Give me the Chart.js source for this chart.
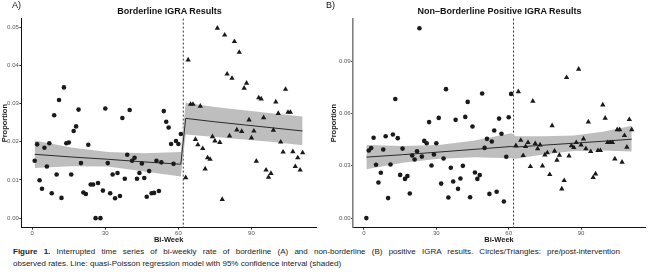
<!DOCTYPE html>
<html><head><meta charset="utf-8">
<script src="https://cdn.jsdelivr.net/npm/chart.js@4.4.0/dist/chart.umd.min.js"></script>
<style>
body{margin:0;background:#fff;width:649px;height:272px;overflow:hidden;position:relative;font-family:"Liberation Sans",Arial,sans-serif;}
canvas{position:absolute;top:0;}
.lbl{position:absolute;font-size:9px;color:#111;line-height:9px;}
.ttl{position:absolute;top:7px;font-size:9px;line-height:9px;font-weight:bold;text-align:center;color:#111;white-space:nowrap;}
.cap{position:absolute;left:13px;font-size:8px;line-height:9px;color:#222;white-space:nowrap;}
#cap1{top:247px;width:607px;text-align:justify;text-align-last:justify;white-space:normal;}
#cap2{top:258.5px;}
</style></head><body>
<canvas id="A" width="320" height="246" style="left:0"></canvas>
<canvas id="B" width="329" height="246" style="left:320px"></canvas>
<div class="lbl" style="left:12px;top:1px;">A)</div>
<div class="lbl" style="left:326px;top:1px;">B)</div>
<div class="ttl" style="left:21px;width:297px;">Borderline IGRA Results</div>
<div class="ttl" style="left:353px;width:293px;">Non–Borderline Positive IGRA Results</div>
<div id="cap1" class="cap"><b>Figure 1.</b> Interrupted time series of bi-weekly rate of borderline (A) and non-borderline (B) positive IGRA results. Circles/Triangles: pre/post-intervention</div>
<div id="cap2" class="cap">observed rates. Line: quasi-Poisson regression model with 95% confidence interval (shaded)</div>
<script>
// ---- data ----
const preWeeks = [1,2,3,4,5,6,7,8,9,10,11,12,13,14,15,16,17,18,19,20,21,22,23,24,25,26,27,28,29,30,31,32,33,34,35,36,37,38,39,40,41,42,43,44,45,46,47,48,49,50,51,52,53,54,55,56,57,58,59,60,61];
const postWeeks = [63,64,65,66,67,68,69,70,71,72,73,74,75,76,77,78,79,80,81,82,83,84,85,86,87,88,89,90,91,92,93,94,95,96,97,98,99,100,101,102,103,104,105,106,107,108,109,110,111];
const interventionWeek = 62;
const xTicks = [0,30,60,90];

const borderlinePre = [0.0150,0.0193,0.0099,0.0077,0.0184,0.0135,0.0196,0.0065,0.0269,0.0114,0.0309,0.0053,0.0342,0.0196,0.0198,0.0114,0.0228,0.0240,0.0284,0.0144,0.0067,0.0063,0.0192,0.0088,0.0088,0.0000,0.0092,0.0000,0.0072,0.0287,0.0144,0.0065,0.0114,0.0052,0.0118,0.0058,0.0262,0.0103,0.0166,0.0283,0.0150,0.0158,0.0103,0.0118,0.0143,0.0105,0.0056,0.0123,0.0065,0.0066,0.0150,0.0071,0.0146,0.0280,0.0252,0.0237,0.0194,0.0142,0.0202,0.0194,0.0220];
const borderlinePost = [0.0106,0.0414,0.0298,0.0298,0.0206,0.0192,0.0293,0.0182,0.0129,0.0158,0.0154,0.0213,0.0202,0.0497,0.0198,0.0049,0.0479,0.0377,0.0215,0.0366,0.0462,0.0231,0.0434,0.0227,0.0340,0.0353,0.0257,0.0210,0.0228,0.0149,0.0315,0.0312,0.0263,0.0126,0.0107,0.0117,0.0230,0.0304,0.0274,0.0199,0.0173,0.0337,0.0277,0.0277,0.0174,0.0135,0.0158,0.0126,0.0171];
const nonBorderlinePre = [0.0000,0.0388,0.0402,0.0461,0.0306,0.0204,0.0260,0.0394,0.0470,0.0115,0.0308,0.0480,0.0684,0.0459,0.0248,0.0399,0.0225,0.0241,0.0141,0.0359,0.0336,0.0384,0.1090,0.0353,0.0443,0.0430,0.0551,0.0302,0.0365,0.0430,0.0575,0.0198,0.0342,0.0740,0.0118,0.0289,0.0210,0.0564,0.0168,0.0227,0.0300,0.0581,0.0667,0.0120,0.0526,0.0262,0.0225,0.0247,0.0715,0.0403,0.0455,0.0139,0.0440,0.0503,0.0151,0.0571,0.0484,0.0095,0.0352,0.0579,0.0713];
const nonBorderlinePost = [0.0416,0.0726,0.0447,0.0359,0.0411,0.0434,0.0296,0.0671,0.0428,0.0398,0.0420,0.0300,0.0363,0.0375,0.0250,0.0531,0.0384,0.0333,0.0361,0.0168,0.0216,0.0807,0.0357,0.0415,0.0405,0.0434,0.0855,0.0420,0.0455,0.0399,0.0552,0.0382,0.0233,0.0254,0.0388,0.0388,0.0650,0.0574,0.0434,0.0434,0.0434,0.0340,0.0508,0.0508,0.0321,0.0474,0.0407,0.0566,0.0508];

// fitted model
const fitWeeks = [1,16,31,46,61,63,75,87,99,111];
const borderlineFit   = [0.0167,0.0160,0.0154,0.0147,0.0141,0.0261,0.0252,0.0244,0.0236,0.0228];
const borderlineUpper = [0.0203,0.0185,0.0173,0.0170,0.0173,0.0302,0.0291,0.0282,0.0274,0.0266];
const borderlineLower = [0.0131,0.0136,0.0135,0.0122,0.0109,0.0219,0.0212,0.0206,0.0199,0.0191];
const nonBorderlineFit   = [0.0350,0.0364,0.0379,0.0395,0.0411,0.0408,0.0419,0.0430,0.0441,0.0453];
const nonBorderlineUpper = [0.0419,0.0414,0.0420,0.0445,0.0487,0.0470,0.0470,0.0474,0.0495,0.0530];
const nonBorderlineLower = [0.0281,0.0318,0.0340,0.0349,0.0344,0.0340,0.0366,0.0385,0.0388,0.0383];

const yTicksA = [0,0.01,0.02,0.03,0.04,0.05];
const yTicksB = [0,0.03,0.06,0.09];

// ---- drawing ----
const FAM = '"Liberation Sans", Arial, sans-serif';
const pts = (xs, ys) => xs.map((x,i)=>({x:x,y:ys[i]}));

const vline = {
  id:'vline',
  beforeDatasetsDraw(chart){
    const {ctx, chartArea, scales} = chart;
    const x = scales.x.getPixelForValue(interventionWeek);
    ctx.save();
    ctx.strokeStyle = '#333';
    ctx.lineWidth = 1;
    ctx.setLineDash([2,2]);
    ctx.beginPath();
    ctx.moveTo(x, chartArea.top);
    ctx.lineTo(x, chartArea.bottom);
    ctx.stroke();
    ctx.restore();
  }
};

function makeChart(id, o){
  return new Chart(document.getElementById(id), {
    type:'scatter',
    data:{datasets:[
      {data:pts(preWeeks,o.pre), pointStyle:'circle', pointRadius:2.3, backgroundColor:'#1a1a1a', borderColor:'#1a1a1a', borderWidth:0, showLine:false, order:0},
      {data:pts(postWeeks,o.post), pointStyle:'triangle', pointRadius:3.1, backgroundColor:'#1a1a1a', borderColor:'#1a1a1a', borderWidth:0, showLine:false, order:0},
      {data:pts(fitWeeks,o.fit), showLine:true, borderColor:'#2b2b2b', borderWidth:1, pointRadius:0, fill:false, tension:0, order:1},
      {data:pts(fitWeeks,o.upper), showLine:true, borderColor:'rgba(0,0,0,0)', borderWidth:0, pointRadius:0, fill:'+1', backgroundColor:'#bebebe', tension:0, order:2},
      {data:pts(fitWeeks,o.lower), showLine:true, borderColor:'rgba(0,0,0,0)', borderWidth:0, pointRadius:0, fill:false, tension:0, order:3}
    ]},
    options:{
      responsive:false, animation:false, devicePixelRatio:1,
      layout:{padding:o.pad},
      plugins:{legend:{display:false}, tooltip:{enabled:false}},
      scales:{
        x:{type:'linear', min:-4.5, max:116.5,
          afterBuildTicks:s=>{s.ticks = xTicks.map(v=>({value:v}));},
          ticks:{font:{size:6,family:FAM}, color:'#555', padding:0.5, maxRotation:0, autoSkip:false, callback:v=>String(v)},
          grid:{display:true, drawOnChartArea:false, drawTicks:true, tickLength:2, color:'#333'},
          border:{display:true, color:'#111', width:1},
          title:{display:true, text:'Bi-Week', font:{size:7.5,weight:'bold',family:FAM}, color:'#1a1a1a', padding:{top:0,bottom:1.5}},
          afterFit:s=>{s.height=18.3;}
        },
        y:{type:'linear', min:o.ymin, max:o.ymax,
          afterBuildTicks:s=>{s.ticks = o.yTicks.map(v=>({value:v}));},
          ticks:{font:{size:6,family:FAM}, color:'#555', padding:0.5, callback:v=>v.toFixed(2)},
          grid:{display:true, drawOnChartArea:false, drawTicks:true, tickLength:2, color:'#333'},
          border:{display:true, color:o.yAxisColor, width:o.yAxisWidth},
          title:{display:true, text:'Proportion', font:{size:7.5,weight:'bold',family:FAM}, color:'#1a1a1a', padding:{top:0.5,bottom:0}},
          afterFit:s=>{s.width=o.yWidth;}
        }
      }
    },
    plugins:[vline]
  });
}

makeChart('A', {pre:borderlinePre, post:borderlinePost, fit:borderlineFit, upper:borderlineUpper, lower:borderlineLower,
  ymin:-0.0025, ymax:0.0522, yTicks:yTicksA, yWidth:21.3, yAxisColor:'#111', yAxisWidth:1,
  pad:{left:0,right:2.4,top:18.6,bottom:0}});
makeChart('B', {pre:nonBorderlinePre, post:nonBorderlinePost, fit:nonBorderlineFit, upper:nonBorderlineUpper, lower:nonBorderlineLower,
  ymin:-0.0055, ymax:0.1145, yTicks:yTicksB, yWidth:24.1, yAxisColor:'#808080', yAxisWidth:1.6,
  pad:{left:9,right:3,top:18.6,bottom:0}});
</script>
</body></html>
